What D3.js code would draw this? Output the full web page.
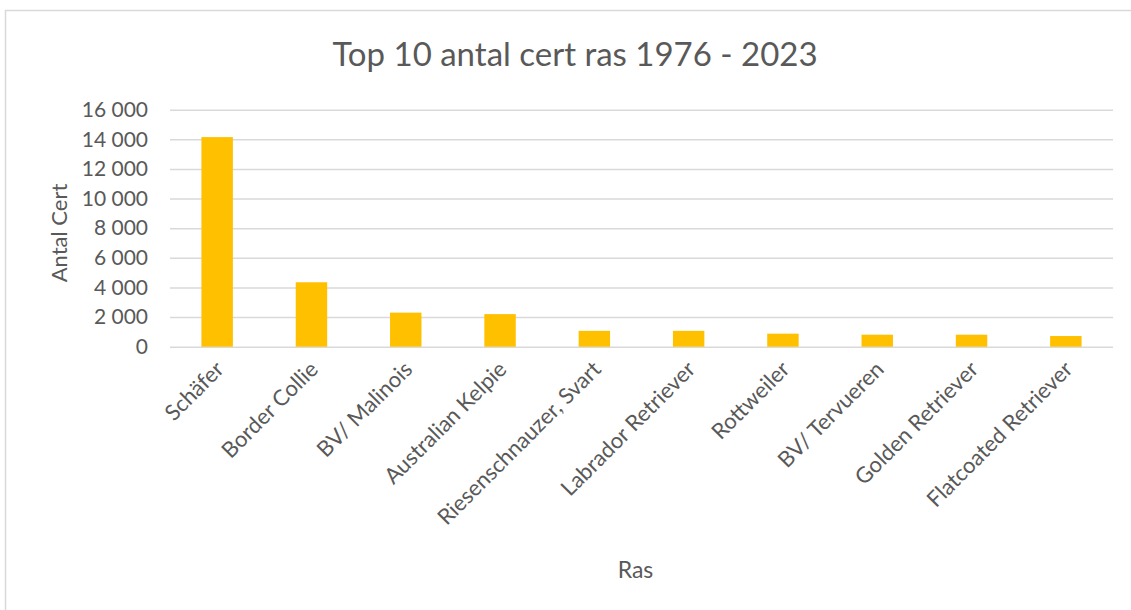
<!DOCTYPE html>
<html><head><meta charset="utf-8">
<script src="https://cdn.jsdelivr.net/npm/d3@7"></script>
<style>
html,body{margin:0;padding:0;background:#fff;}
svg{display:block;font-family:Lato, "Open Sans", sans-serif;}
</style></head>
<body>
<svg id="chart" width="1131" height="610"></svg>
<script>
const categories = ["Schäfer","Border Collie","BV/ Malinois","Australian Kelpie","Riesenschnauzer, Svart","Labrador Retriever","Rottweiler","BV/ Tervueren","Golden Retriever","Flatcoated Retriever"];
const values = [14150, 4350, 2300, 2200, 1070, 1070, 880, 810, 810, 720];
const yTicks = [0, 2000, 4000, 6000, 8000, 10000, 12000, 14000, 16000];
const title = "Top 10 antal cert ras 1976 - 2023";
const yTitle = "Antal Cert";
const xTitle = "Ras";

const svg = d3.select("#chart");
const W = 1131, H = 610;
svg.append("rect").attr("width", W).attr("height", H).attr("fill", "#fff");
// chart frame
svg.append("rect").attr("x", 5.5).attr("y", 10.5).attr("width", W + 20).attr("height", H + 20)
  .attr("fill", "#fff").attr("stroke", "#d9d9d9").attr("stroke-width", 1.5);

const m = {left: 170, right: 1113, top: 109.7, bottom: 346.7};
const x = d3.scaleBand().domain(categories).range([m.left, m.right]).paddingInner(2/3).paddingOuter(1/3);
const y = d3.scaleLinear().domain([0, 16000]).range([m.bottom, m.top]);

const loc = d3.formatLocale({decimal: ",", thousands: " ", grouping: [3], currency: ["", " kr"]});
const fmt = loc.format(",d");

// gridlines
const gAxis = svg.append("g").attr("transform", `translate(${m.left},0)`)
  .call(d3.axisLeft(y).tickValues(yTicks).tickFormat(fmt).tickSize(-(m.right - m.left)).tickPadding(22));
gAxis.select(".domain").remove();
gAxis.selectAll(".tick line").attr("stroke", "#d9d9d9").attr("stroke-width", 1.5);
gAxis.selectAll(".tick text").attr("fill", "#595959").style("font-size", "21px").style("font-family", "Lato, sans-serif");

// bars
svg.append("g").selectAll("rect").data(categories).join("rect")
  .attr("x", d => x(d))
  .attr("width", x.bandwidth())
  .attr("y", (d, i) => y(values[i]))
  .attr("height", (d, i) => y(0) - y(values[i]))
  .attr("fill", "#ffc000");

// x axis labels
const gx = svg.append("g").attr("transform", `translate(0,${m.bottom})`)
  .call(d3.axisBottom(x).tickSize(0).tickPadding(0));
gx.select(".domain").remove();
gx.selectAll(".tick text")
  .attr("fill", "#595959").style("font-size", "22px").style("font-family", "Lato, sans-serif")
  .attr("text-anchor", "end")
  .attr("dy", "0")
  .attr("transform", "translate(8,24) rotate(-45)");

// title
svg.append("text").attr("x", 575).attr("y", 66).attr("text-anchor", "middle")
  .attr("fill", "#595959").style("font-size", "33px").text(title);

// y title
svg.append("text").attr("transform", "translate(67,233) rotate(-90)").attr("text-anchor", "middle")
  .attr("fill", "#595959").style("font-size", "22px").text(yTitle);

// x title
svg.append("text").attr("x", (m.left + m.right) / 2 - 6).attr("y", 578).attr("text-anchor", "middle")
  .attr("fill", "#595959").style("font-size", "23px").text(xTitle);
</script>
</body></html>
